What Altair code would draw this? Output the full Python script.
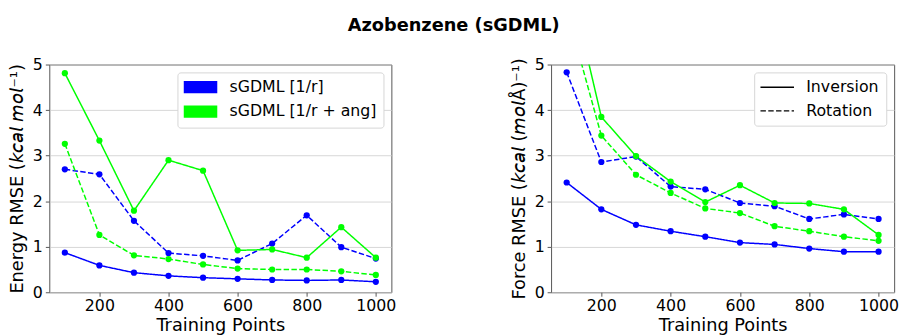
import altair as alt
import pandas as pd

# ---- data ----
training_points = [100, 200, 300, 400, 500, 600, 700, 800, 900, 1000]
models = ["sGDML [1/r]", "sGDML [1/r + ang]"]
paths = ["Inversion", "Rotation"]

energy_r_inv = [0.87, 0.59, 0.43, 0.36, 0.32, 0.295, 0.27, 0.26, 0.27, 0.23]
energy_r_rot = [2.70, 2.59, 1.57, 0.86, 0.80, 0.70, 1.07, 1.69, 0.99, 0.74]
energy_ang_inv = [4.81, 3.33, 1.79, 2.90, 2.67, 0.92, 0.94, 0.76, 1.43, 0.76]
energy_ang_rot = [3.26, 1.26, 0.81, 0.73, 0.61, 0.52, 0.50, 0.50, 0.46, 0.38]

force_r_inv = [2.41, 1.82, 1.48, 1.34, 1.22, 1.09, 1.05, 0.96, 0.89, 0.89]
force_r_rot = [4.83, 2.86, 2.98, 2.32, 2.26, 1.96, 1.89, 1.61, 1.71, 1.61]
force_ang_inv = [7.1, 3.85, 2.99, 2.43, 1.98, 2.35, 1.96, 1.95, 1.82, 1.26]
force_ang_rot = [6.2, 3.44, 2.58, 2.18, 1.84, 1.74, 1.45, 1.34, 1.22, 1.13]

x_ticks = [200, 400, 600, 800, 1000]
y_ticks = [0, 1, 2, 3, 4, 5]
colors = ["#0000ff", "#00ff00"]

FONT = "DejaVu Sans"

# legend patch: a block of tightly packed horizontal strokes (reads as a filled rectangle)
PATCH_PATH = "".join(f"M-2.5,{y:.1f}H2.5" for y in [-0.8, -0.6, -0.4, -0.2, 0.0, 0.2, 0.4, 0.6, 0.8])


def make_df(r_inv, r_rot, ang_inv, ang_rot):
    rows = []
    for model, path, vals in [
        (models[0], paths[0], r_inv),
        (models[0], paths[1], r_rot),
        (models[1], paths[0], ang_inv),
        (models[1], paths[1], ang_rot),
    ]:
        for p, v in zip(training_points, vals):
            rows.append({"points": p, "rmse": v, "model": model,
                         "point_model": model, "path": path})
    return pd.DataFrame(rows)


energy_df = make_df(energy_r_inv, energy_r_rot, energy_ang_inv, energy_ang_rot)
force_df = make_df(force_r_inv, force_r_rot, force_ang_inv, force_ang_rot)

legend_common = dict(
    title=None,
    orient="top-right",
    offset=8,
    labelFont=FONT,
    labelFontSize=16,
    labelColor="black",
    strokeColor="#d5d5d5",
    fillColor="white",
    cornerRadius=3,
    padding=7,
    symbolSize=185,
    symbolOffset=8.4,
    labelOffset=21.4,
)


def panel(df, ytitle, width, color_legend):
    x = alt.X(
        "points:Q",
        scale=alt.Scale(domain=[55, 1045], nice=False, zero=False),
        axis=alt.Axis(values=x_ticks, title="Training Points", grid=False, format="d"),
    )
    y = alt.Y(
        "rmse:Q",
        scale=alt.Scale(domain=[0, 5], nice=False),
        axis=alt.Axis(values=y_ticks, title=ytitle, grid=True),
    )
    if color_legend:
        color_leg = alt.Legend(
            symbolType=PATCH_PATH,
            symbolStrokeWidth=1.6,
            symbolOpacity=1,
            rowPadding=6.7,
            **legend_common,
        )
        dash_legend = None
    else:
        color_leg = None
        dash_legend = alt.Legend(
            symbolType="M-2.5,0H2.5",
            symbolStrokeColor="black",
            symbolStrokeWidth=1.5,
            rowPadding=8,
            **legend_common,
        )
    color = alt.Color("model:N", scale=alt.Scale(domain=models, range=colors), legend=color_leg)
    dash = alt.StrokeDash(
        "path:N",
        scale=alt.Scale(domain=paths, range=[[1, 0], [5.5, 2.4]]),
        legend=dash_legend,
    )
    fill = alt.Fill("point_model:N", scale=alt.Scale(domain=models, range=colors),
                    legend=None)

    base = alt.Chart(df)
    lines = base.mark_line(clip=True, strokeWidth=1.5).encode(
        x=x, y=y, color=color, strokeDash=dash, order="points:Q"
    )
    pts = base.mark_circle(clip=True, size=40, opacity=1).encode(x=x, y=y, fill=fill)
    return alt.layer(lines, pts).properties(width=width, height=231)


left = panel(energy_df, "Energy RMSE (𝘬𝘤𝘢𝘭 𝘮𝘰𝘭⁻¹)", 347, True)
right = panel(force_df, "Force RMSE (𝘬𝘤𝘢𝘭 (𝘮𝘰𝘭Å)⁻¹)", 348, False)

chart = (
    alt.hconcat(left, right, spacing=114)
    .resolve_scale(fill="independent", strokeDash="independent", color="independent")
    .resolve_legend(color="independent", strokeDash="independent")
    .properties(
        title=alt.TitleParams(
            "Azobenzene (sGDML)",
            font=FONT,
            fontSize=18,
            fontWeight="bold",
            anchor="middle",
            color="black",
            offset=22,
        ),
        padding={"left": 8, "top": 14, "right": 5, "bottom": 5},
    )
    .configure_view(stroke="#555555", strokeWidth=1)
    .configure_axis(
        labelFont=FONT,
        titleFont=FONT,
        labelFontSize=16,
        titleFontSize=18,
        titleFontWeight="normal",
        labelColor="black",
        titleColor="black",
        domain=False,
        tickColor="#555555",
        tickSize=4,
        labelPadding=3,
        gridColor="#cccccc",
        gridWidth=0.8,
    )
    .configure_axisY(titlePadding=6)
    .configure_axisX(titlePadding=3, labelPadding=2)
)

chart.save("out.html", embed_options={"renderer": "svg", "actions": False})
